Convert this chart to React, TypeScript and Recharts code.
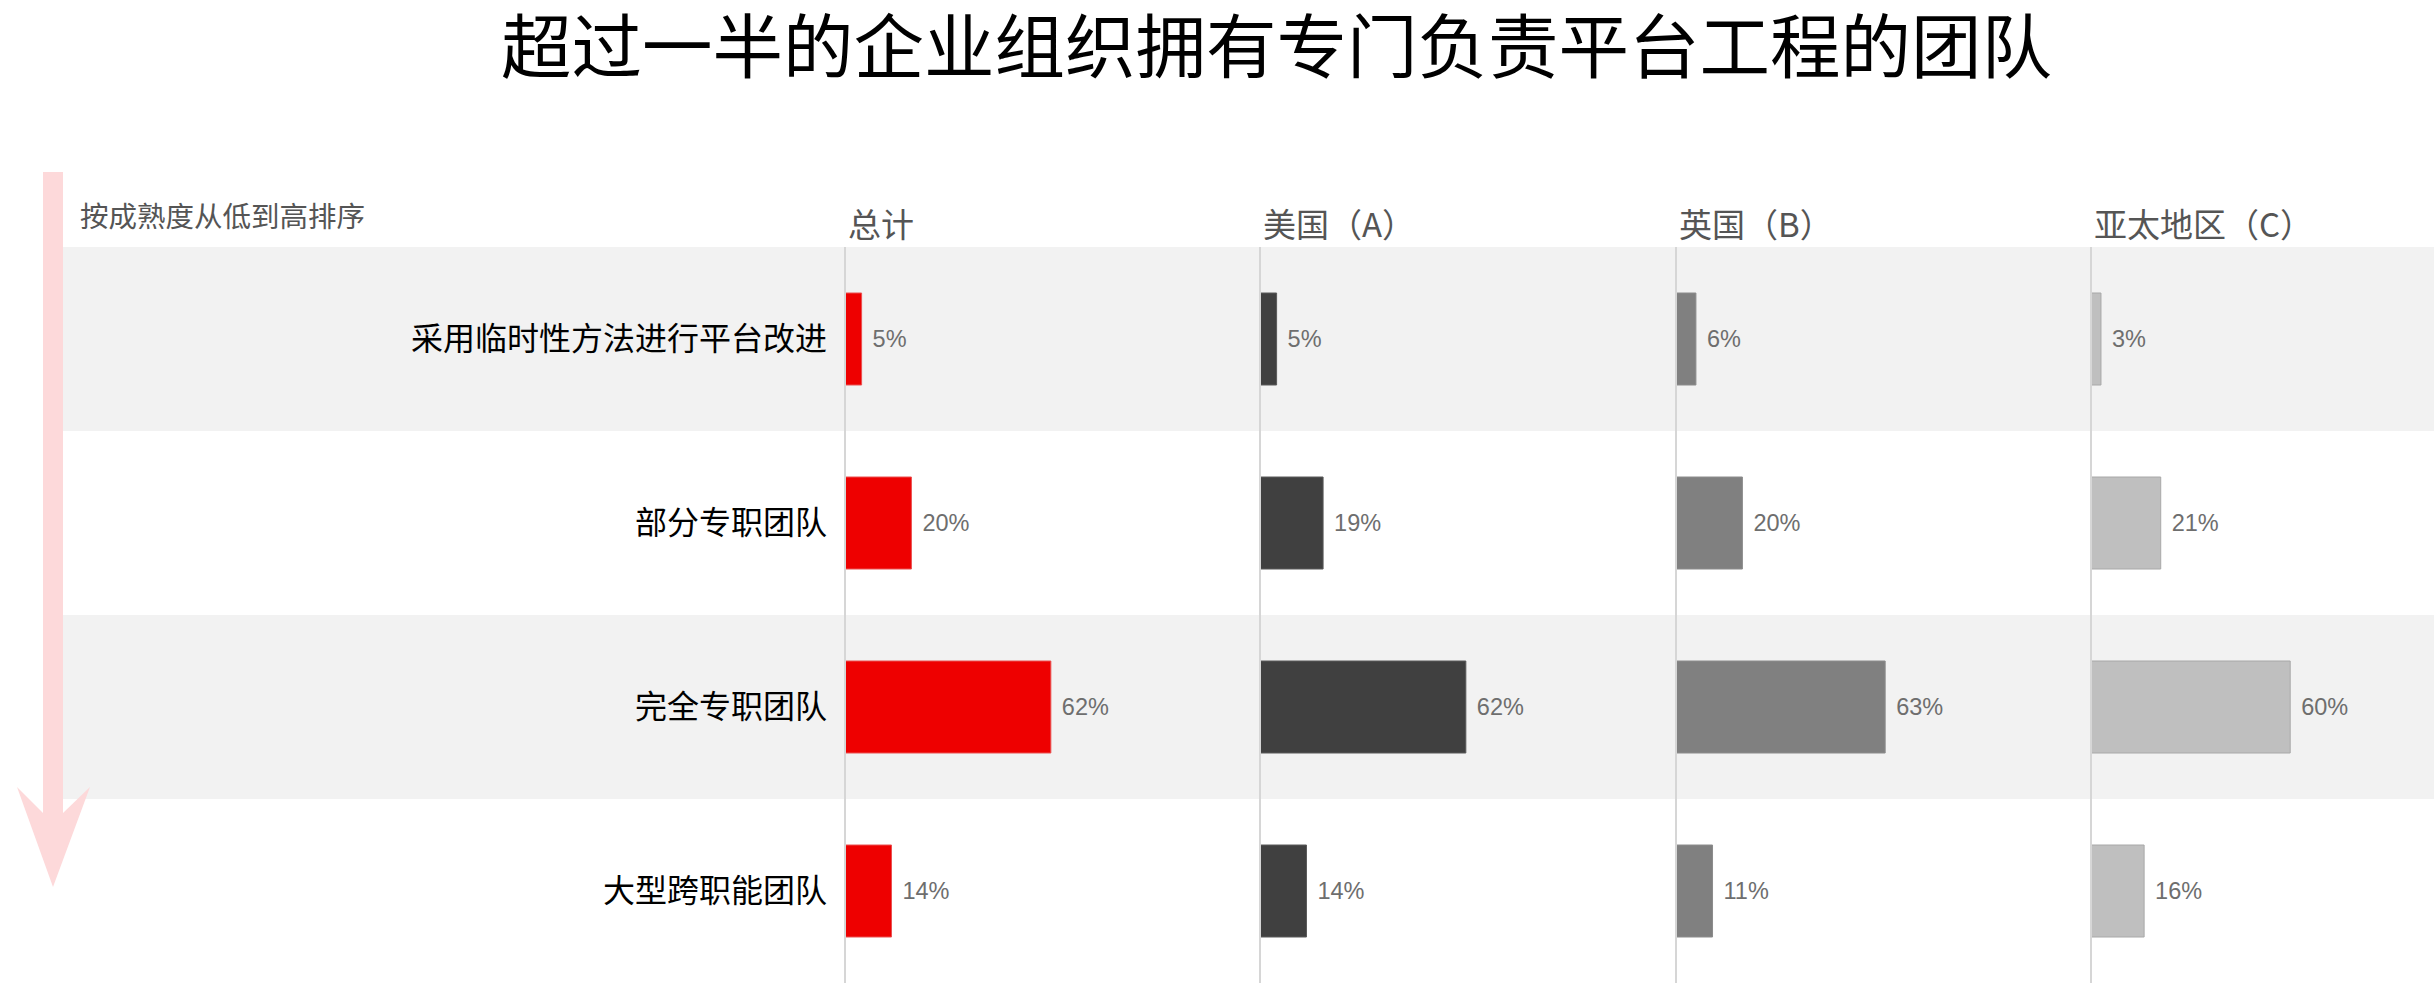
import React from 'react';
import { BarChart, Bar, XAxis, YAxis, LabelList, ReferenceArea, ReferenceLine } from 'recharts';

const categories = ['采用临时性方法进行平台改进', '部分专职团队', '完全专职团队', '大型跨职能团队'];
const totalValues = [5, 20, 62, 14];
const usValues = [5, 19, 62, 14];
const ukValues = [6, 20, 63, 11];
const apacValues = [3, 21, 60, 16];
const panelTitles = ['总计', '美国（A）', '英国（B）', '亚太地区（C）'];
const title = '超过一半的企业组织拥有专门负责平台工程的团队';
const sortNote = '按成熟度从低到高排序';

const data = categories.map((name, i) => ({
  name,
  total: totalValues[i],
  us: usValues[i],
  uk: ukValues[i],
  apac: apacValues[i],
}));

const CJK = "'Noto Sans CJK SC', 'Noto Sans', sans-serif";
const NUM = "'Liberation Sans', Arial, sans-serif";

const W = 2434;
const H = 996;
const PLOT_TOP = 247;
const PLOT_BOTTOM = 983;
const AXIS_X = [845, 1260, 1676, 2091];
const PANEL_W = 415;
const DOMAIN_MAX = 125;
const BAR_SIZE = 92;

const panels = [
  { key: 'total', fill: '#ee0000', stroke: '#ea5050' },
  { key: 'us', fill: '#404040', stroke: '#5a5a5a' },
  { key: 'uk', fill: '#808080', stroke: '#8c8c8c' },
  { key: 'apac', fill: '#bfbfbf', stroke: '#a8a8a8' },
];

const fmt = (v: any) => `${v}%`;

export default function App() {
  const margin = { top: PLOT_TOP, bottom: H - PLOT_BOTTOM };
  return (
    <div style={{ position: 'absolute', left: 0, top: 0, width: W, height: H, background: '#fff', overflow: 'hidden' }}>
      {/* background bands */}
      <div style={{ position: 'absolute', left: 0, top: 0 }}>
        <BarChart layout="vertical" width={W} height={H} data={data} margin={{ ...margin, left: 63, right: 0 }}>
          <XAxis type="number" domain={[0, DOMAIN_MAX]} hide />
          <YAxis type="category" dataKey="name" hide />
          <Bar dataKey="total" fill="transparent" stroke="none" isAnimationActive={false} />
          <ReferenceArea y1={categories[0]} y2={categories[0]} fill="#f2f2f2" fillOpacity={1} stroke="none" ifOverflow="visible" />
          <ReferenceArea y1={categories[2]} y2={categories[2]} fill="#f2f2f2" fillOpacity={1} stroke="none" ifOverflow="visible" />
        </BarChart>
      </div>

      {/* arrow */}
      <svg style={{ position: 'absolute', left: 0, top: 0 }} width={120} height={H}>
        <polygon points="43,172 63,172 63,813 90,787 53,887 17,787 43,813" fill="#fdd9da" />
      </svg>

      {/* Total panel with category labels */}
      <div style={{ position: 'absolute', left: 0, top: 0 }}>
        <BarChart layout="vertical" width={AXIS_X[0] + PANEL_W} height={H} data={data} margin={{ ...margin, left: 0, right: 0 }}>
          <XAxis type="number" domain={[0, DOMAIN_MAX]} hide />
          <YAxis
            type="category"
            dataKey="name"
            width={AXIS_X[0]}
            tickLine={false}
            tickSize={0}
            tickMargin={18}
            axisLine={{ stroke: '#d6d6d6', strokeWidth: 2 }}
            tick={{ fill: '#000', fontSize: 32, fontFamily: CJK }}
          />
          <Bar dataKey="total" fill={panels[0].fill} stroke={panels[0].stroke} strokeWidth={1} barSize={BAR_SIZE} isAnimationActive={false}>
            <LabelList dataKey="total" position="right" offset={11} formatter={fmt} fill="#6e6e6e" fontSize={23.5} fontFamily={NUM} />
          </Bar>
        </BarChart>
      </div>

      {/* other panels */}
      {panels.slice(1).map((p, idx) => {
        const i = idx + 1;
        return (
          <div key={p.key} style={{ position: 'absolute', left: AXIS_X[i] - 2, top: 0 }}>
            <BarChart layout="vertical" width={PANEL_W + 2} height={H} data={data} margin={{ ...margin, left: 2, right: 0 }}>
              <XAxis type="number" domain={[0, DOMAIN_MAX]} hide />
              <YAxis type="category" dataKey="name" hide />
              <ReferenceLine x={0} stroke="#d6d6d6" strokeWidth={2} ifOverflow="visible" />
              <Bar dataKey={p.key} fill={p.fill} stroke={p.stroke} strokeWidth={1} barSize={BAR_SIZE} isAnimationActive={false}>
                <LabelList dataKey={p.key} position="right" offset={11} formatter={fmt} fill="#6e6e6e" fontSize={23.5} fontFamily={NUM} />
              </Bar>
            </BarChart>
          </div>
        );
      })}

      {/* title */}
      <div style={{ position: 'absolute', left: 501, top: 4, fontFamily: CJK, fontSize: 70.5, lineHeight: '76px', color: '#000', whiteSpace: 'nowrap' }}>
        {title}
      </div>

      {/* sort note */}
      <div style={{ position: 'absolute', left: 80, top: 199, fontFamily: CJK, fontSize: 28.5, lineHeight: '32px', color: '#555', whiteSpace: 'nowrap' }}>
        {sortNote}
      </div>

      {/* panel headers */}
      {panelTitles.map((t, i) => (
        <div key={t} style={{ position: 'absolute', left: AXIS_X[i] + 3, top: 205, fontFamily: CJK, fontSize: 33, lineHeight: '36px', color: '#555', whiteSpace: 'nowrap' }}>
          {t}
        </div>
      ))}
    </div>
  );
}
